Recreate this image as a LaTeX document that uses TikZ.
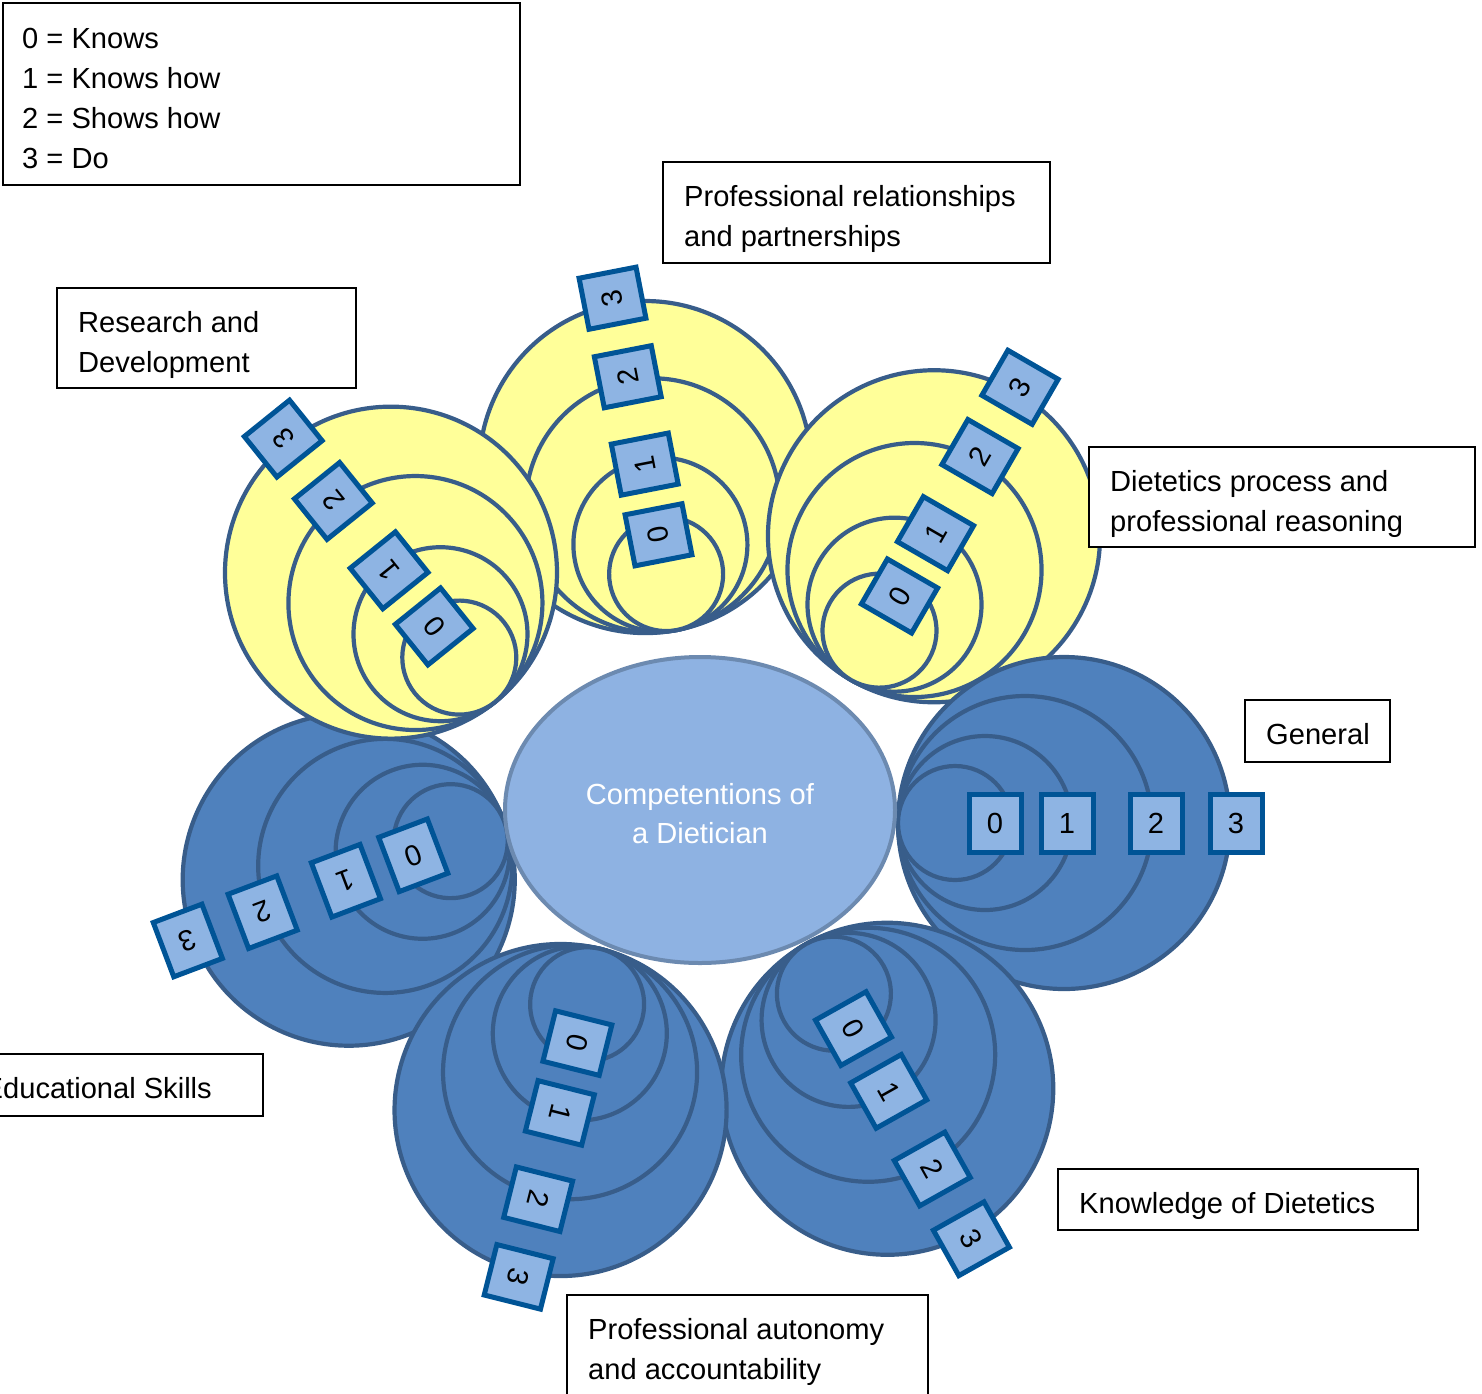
\documentclass[tikz,border=0pt]{standalone}
\usepackage{fontspec}
\setmainfont{Liberation Sans}
\usetikzlibrary{shapes.geometric}

\definecolor{ringline}{RGB}{56,93,138}
\definecolor{ringblue}{RGB}{79,129,189}
\definecolor{ringyellow}{RGB}{255,255,153}
\definecolor{levelfill}{RGB}{142,180,227}
\definecolor{levelline}{RGB}{0,84,150}
\definecolor{corefill}{RGB}{142,178,226}
\definecolor{coreline}{RGB}{108,138,176}

\newcommand\bigtext{\fontsize{29.1pt}{40pt}\selectfont}

% One competence area: nested rings touching at one point (#2,#3),
% opening outwards along angle #4, with level boxes 0..3 on the axis.
\newcommand\competence[5]{%
  \begin{scope}[shift={(#2,-#3)}, rotate=#4]
    \foreach \rad in {166,127,87,57}
      \draw[ringpath, fill=#5] (\rad pt,0pt) circle[radius=\rad pt];
    \foreach \dist/\lvl in {97/0,169/1,258/2,338/3}
      \node[lvlbox] (#1\lvl) at (\dist pt,0pt) {\lvl};
  \end{scope}}

\begin{document}
\begin{tikzpicture}[x=1pt, y=1pt,
  ringpath/.style={draw=ringline, line width=4.2pt},
  lvlbox/.style={transform shape, draw=levelline, fill=levelfill, line width=5pt,
                 minimum width=52pt, minimum height=58pt, inner sep=0pt, font=\bigtext},
  labelbox/.style={draw=black, fill=white, line width=1.6pt, inner sep=0pt},
  labeltext/.style={anchor=base west, inner sep=0pt, font=\bigtext},
  coretext/.style={anchor=base, inner sep=0pt, font=\bigtext, text=white}]

\useasboundingbox (0,0) rectangle (1482,-1393);
\clip (0,0) rectangle (1482,-1393);

% competence areas, back to front
\competence{rel}{677}{630}{101}{ringyellow}
\competence{dp}{851}{680}{60}{ringyellow}
\competence{gen}{898}{823}{0}{ringblue}
\competence{kd}{806}{944}{-60.7}{ringblue}
\competence{edu}{504}{821}{200.7}{ringblue}
\competence{aut}{601}{949}{-104.1}{ringblue}
\competence{rd}{495}{702}{128.8}{ringyellow}

% centre
\node[ellipse, draw=coreline, fill=corefill, line width=4pt,
      minimum width=390pt, minimum height=306pt, inner sep=0pt] (core) at (700,-810) {};
\node[coretext] (core1) at (700,-804) {Competentions of};
\node[coretext] (core2) at (700,-843) {a Dietician};

% legend
\node[labelbox, minimum width=517pt, minimum height=182pt] (legend) at (261.5,-94) {};
\node[labeltext] (legend0) at (22,-48)  {0 = Knows};
\node[labeltext] (legend1) at (22,-88)  {1 = Knows how};
\node[labeltext] (legend2) at (22,-128) {2 = Shows how};
\node[labeltext] (legend3) at (22,-168) {3 = Do};

% area titles
\node[labelbox, minimum width=387pt, minimum height=101pt] (relbox) at (856.5,-212.5) {};
\node[labeltext] (reltxt1) at (684,-206) {Professional relationships};
\node[labeltext] (reltxt2) at (684,-246) {and partnerships};

\node[labelbox, minimum width=299pt, minimum height=100pt] (rdbox) at (206.5,-338) {};
\node[labeltext] (rdtxt1) at (78,-332) {Research and};
\node[labeltext] (rdtxt2) at (78,-372) {Development};

\node[labelbox, minimum width=386pt, minimum height=100pt] (dpbox) at (1282,-497) {};
\node[labeltext] (dptxt1) at (1110,-491) {Dietetics process and};
\node[labeltext] (dptxt2) at (1110,-531) {professional reasoning};

\node[labelbox, minimum width=145pt, minimum height=62pt] (genbox) at (1317.5,-731) {};
\node[labeltext] (gentxt) at (1266,-744) {General};

\node[labelbox, minimum width=303pt, minimum height=62pt] (edubox) at (111.5,-1085) {};
\node[labeltext, anchor=base east] (edutxt) at (212,-1098) {Educational Skills};

\node[labelbox, minimum width=360pt, minimum height=61pt] (kdbox) at (1238,-1199.5) {};
\node[labeltext] (kdtxt) at (1079,-1213) {Knowledge of Dietetics};

\node[labelbox, minimum width=361pt, minimum height=115pt] (autbox) at (747.5,-1352.5) {};
\node[labeltext] (auttxt1) at (588,-1339) {Professional autonomy};
\node[labeltext] (auttxt2) at (588,-1379) {and accountability};

\end{tikzpicture}
\end{document}
